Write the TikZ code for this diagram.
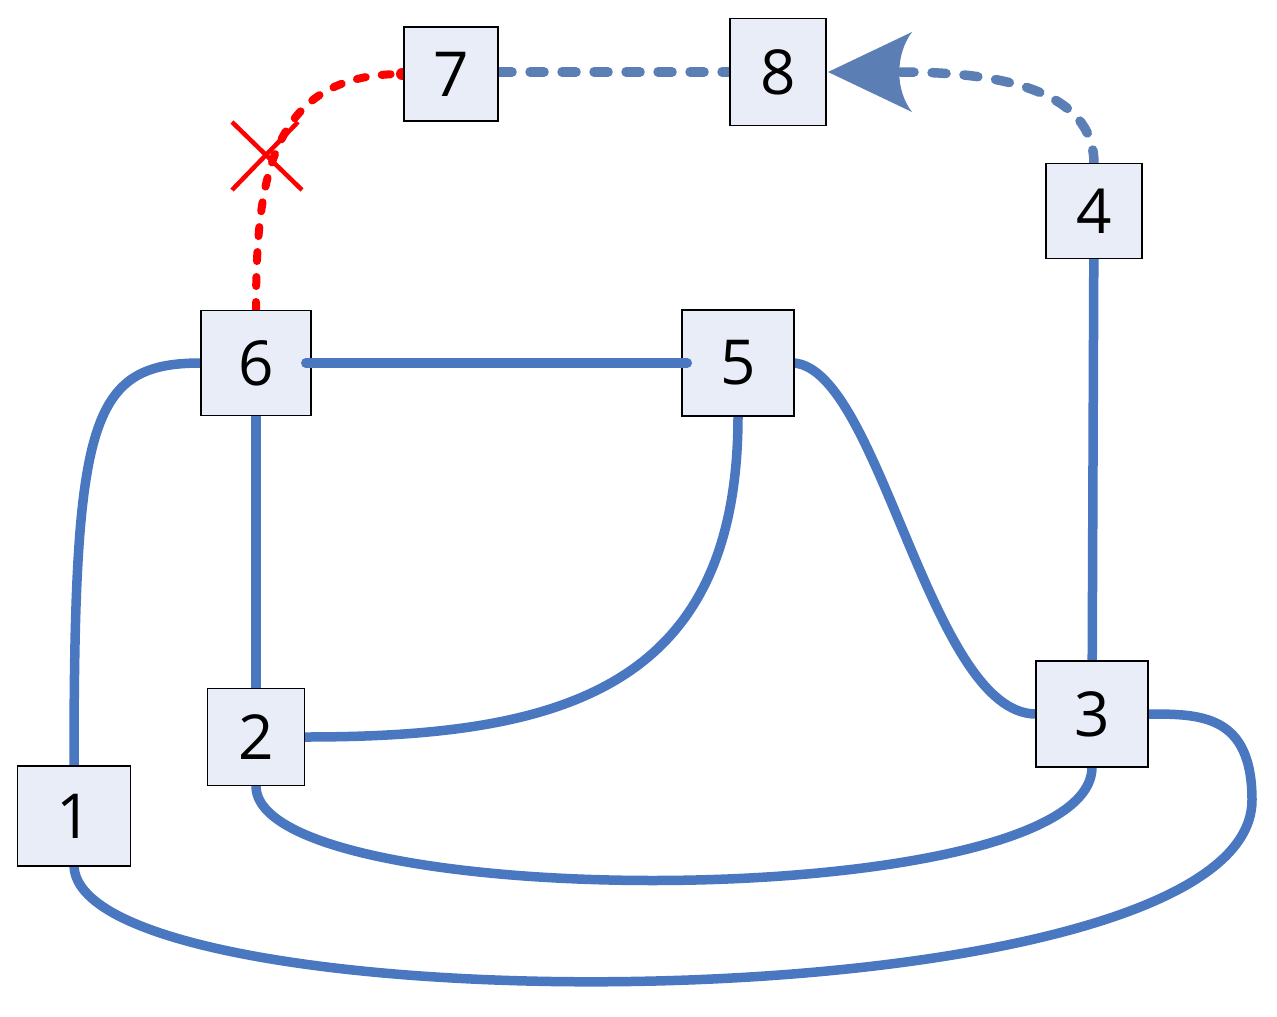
\documentclass[tikz,border=0pt]{standalone}
\usepackage{fontspec}
\setmainfont{Open Sans}
\usetikzlibrary{arrows.meta}
\definecolor{bl}{HTML}{4A78C0}
\definecolor{bd}{HTML}{5B7FB5}
\definecolor{bx}{HTML}{E8EDF7}
\begin{document}
\begin{tikzpicture}[x=1pt,y=-1pt,
 box/.style={draw=black,line width=1.5pt,fill=bx,inner sep=0pt,font=\fontsize{62}{64}\selectfont},
 edge/.style={draw=bl,line width=9.5pt,line cap=round},
 dedge/.style={draw=bd,line width=9.5pt,line cap=round,dash pattern=on 14pt off 18pt},
 redge/.style={draw=red,line width=8pt,line cap=round,dash pattern=on 9pt off 16pt}]
\useasboundingbox (0,0) rectangle (1277,1017);
\path[edge] (256,363) -- (738,363);
\path[edge] (256,363) -- (256,737);
\path[edge] (1094,211) -- (1092,714);
\path[edge] (201,363) .. controls (90,363) and (74,420) .. (74,766);
\path[edge] (738,416) .. controls (738,690) and (560,737) .. (305,737);
\path[edge] (794,363) .. controls (880,370) and (930,714) .. (1036,714);
\path[edge] (256,786) .. controls (256,915) and (1092,915) .. (1092,767);
\path[edge] (74,866) .. controls (80,1030) and (1252,1030) .. (1252,800) .. controls (1252,714) and (1200,714) .. (1148,714);
\path[dedge] (498,72) -- (730,72);
\path[dedge] (1094,164) .. controls (1094,90) and (1000,72) .. (900,72);
\path[redge] (256,311) .. controls (256,180) and (270,74) .. (402,74);
\fill[red] (402,74) circle (6pt);
\draw[red,line width=4.5pt] (232,122) -- (302,190) (298,122) -- (232,190);
\fill[bd] (828,72) -- (912,32) .. controls (895,55) and (895,90) .. (912,112) -- cycle;
\node[box,minimum width=94pt,minimum height=94pt] (n7) at (451,74) {7};
\node[box,minimum width=96pt,minimum height=107pt] (n8) at (778,72) {8};
\node[box,minimum width=96pt,minimum height=95pt] (n4) at (1094,211) {4};
\node[box,minimum width=110pt,minimum height=105pt] (n6) at (256,363) {6};
\node[box,minimum width=112pt,minimum height=106pt] (n5) at (738,363) {5};
\node[box,minimum width=97pt,minimum height=97pt] (n2) at (256,737) {2};
\node[box,minimum width=112pt,minimum height=106pt] (n3) at (1092,714) {3};
\node[box,minimum width=113pt,minimum height=100pt] (n1) at (74,816) {1};
\path[edge] (n6.east) -- ++(-6,0) (n5.west) -- ++(6,0);
\end{tikzpicture}
\end{document}
